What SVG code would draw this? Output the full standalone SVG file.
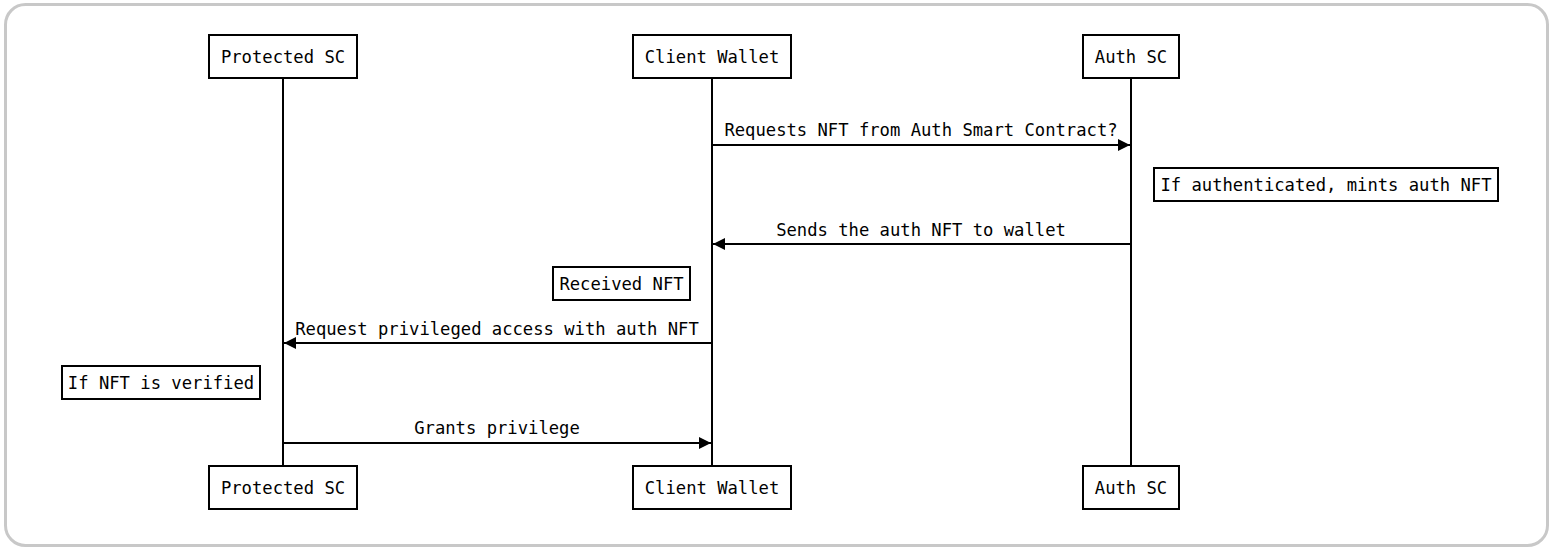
<svg xmlns="http://www.w3.org/2000/svg" width="1553" height="550" viewBox="0 0 1553 550">
<style>
.t{font-family:"DejaVu Sans Mono","Liberation Mono",monospace;font-size:17.2px;fill:#000}
.b{fill:#fff;stroke:#000;stroke-width:2}
.l{stroke:#000;stroke-width:2;fill:none}
</style>
<defs>
<marker id="a" viewBox="0 0 10 10" refX="10" refY="5" markerWidth="6" markerHeight="6" orient="auto-start-reverse" markerUnits="strokeWidth">
<path d="M0,0 L10,5 L0,10 z" fill="#000"/>
</marker>
</defs>
<rect x="5.5" y="4.5" width="1542" height="541" rx="20" fill="#fff" stroke="#c8c8c8" stroke-width="3"/>
<g id="lifelines">
<line class="l" x1="283" y1="78" x2="283" y2="466"/>
<line class="l" x1="712" y1="78" x2="712" y2="466"/>
<line class="l" x1="1131" y1="78" x2="1131" y2="466"/>
</g>
<g id="connectors">
<line class="l" x1="712" y1="145" x2="1130" y2="145" marker-end="url(#a)"/>
<text class="t" x="921" y="136" text-anchor="middle">Requests NFT from Auth Smart Contract?</text>
<line class="l" x1="1131" y1="244" x2="713" y2="244" marker-end="url(#a)"/>
<text class="t" x="921" y="236" text-anchor="middle">Sends the auth NFT to wallet</text>
<line class="l" x1="712" y1="343" x2="284" y2="343" marker-end="url(#a)"/>
<text class="t" x="497" y="335" text-anchor="middle">Request privileged access with auth NFT</text>
<line class="l" x1="283" y1="443" x2="711" y2="443" marker-end="url(#a)"/>
<text class="t" x="497" y="434" text-anchor="middle">Grants privilege</text>
</g>
<g id="protected-top"><rect class="b" x="209" y="35" width="148" height="43"/><text class="t" x="283" y="63" text-anchor="middle">Protected SC</text></g>
<g id="wallet-top"><rect class="b" x="633" y="35" width="158" height="43"/><text class="t" x="712" y="63" text-anchor="middle">Client Wallet</text></g>
<g id="auth-top"><rect class="b" x="1083" y="35" width="96" height="43"/><text class="t" x="1131" y="63" text-anchor="middle">Auth SC</text></g>
<g id="protected-bottom"><rect class="b" x="209" y="466" width="148" height="43"/><text class="t" x="283" y="494" text-anchor="middle">Protected SC</text></g>
<g id="wallet-bottom"><rect class="b" x="633" y="466" width="158" height="43"/><text class="t" x="712" y="494" text-anchor="middle">Client Wallet</text></g>
<g id="auth-bottom"><rect class="b" x="1083" y="466" width="96" height="43"/><text class="t" x="1131" y="494" text-anchor="middle">Auth SC</text></g>
<g id="note-mint"><rect class="b" x="1154" y="168" width="344" height="33"/><text class="t" x="1326" y="191" text-anchor="middle">If authenticated, mints auth NFT</text></g>
<g id="note-received"><rect class="b" x="553" y="267" width="137" height="33"/><text class="t" x="621.5" y="290" text-anchor="middle">Received NFT</text></g>
<g id="note-verified"><rect class="b" x="62" y="366" width="198" height="33"/><text class="t" x="161" y="389" text-anchor="middle">If NFT is verified</text></g>
</svg>
